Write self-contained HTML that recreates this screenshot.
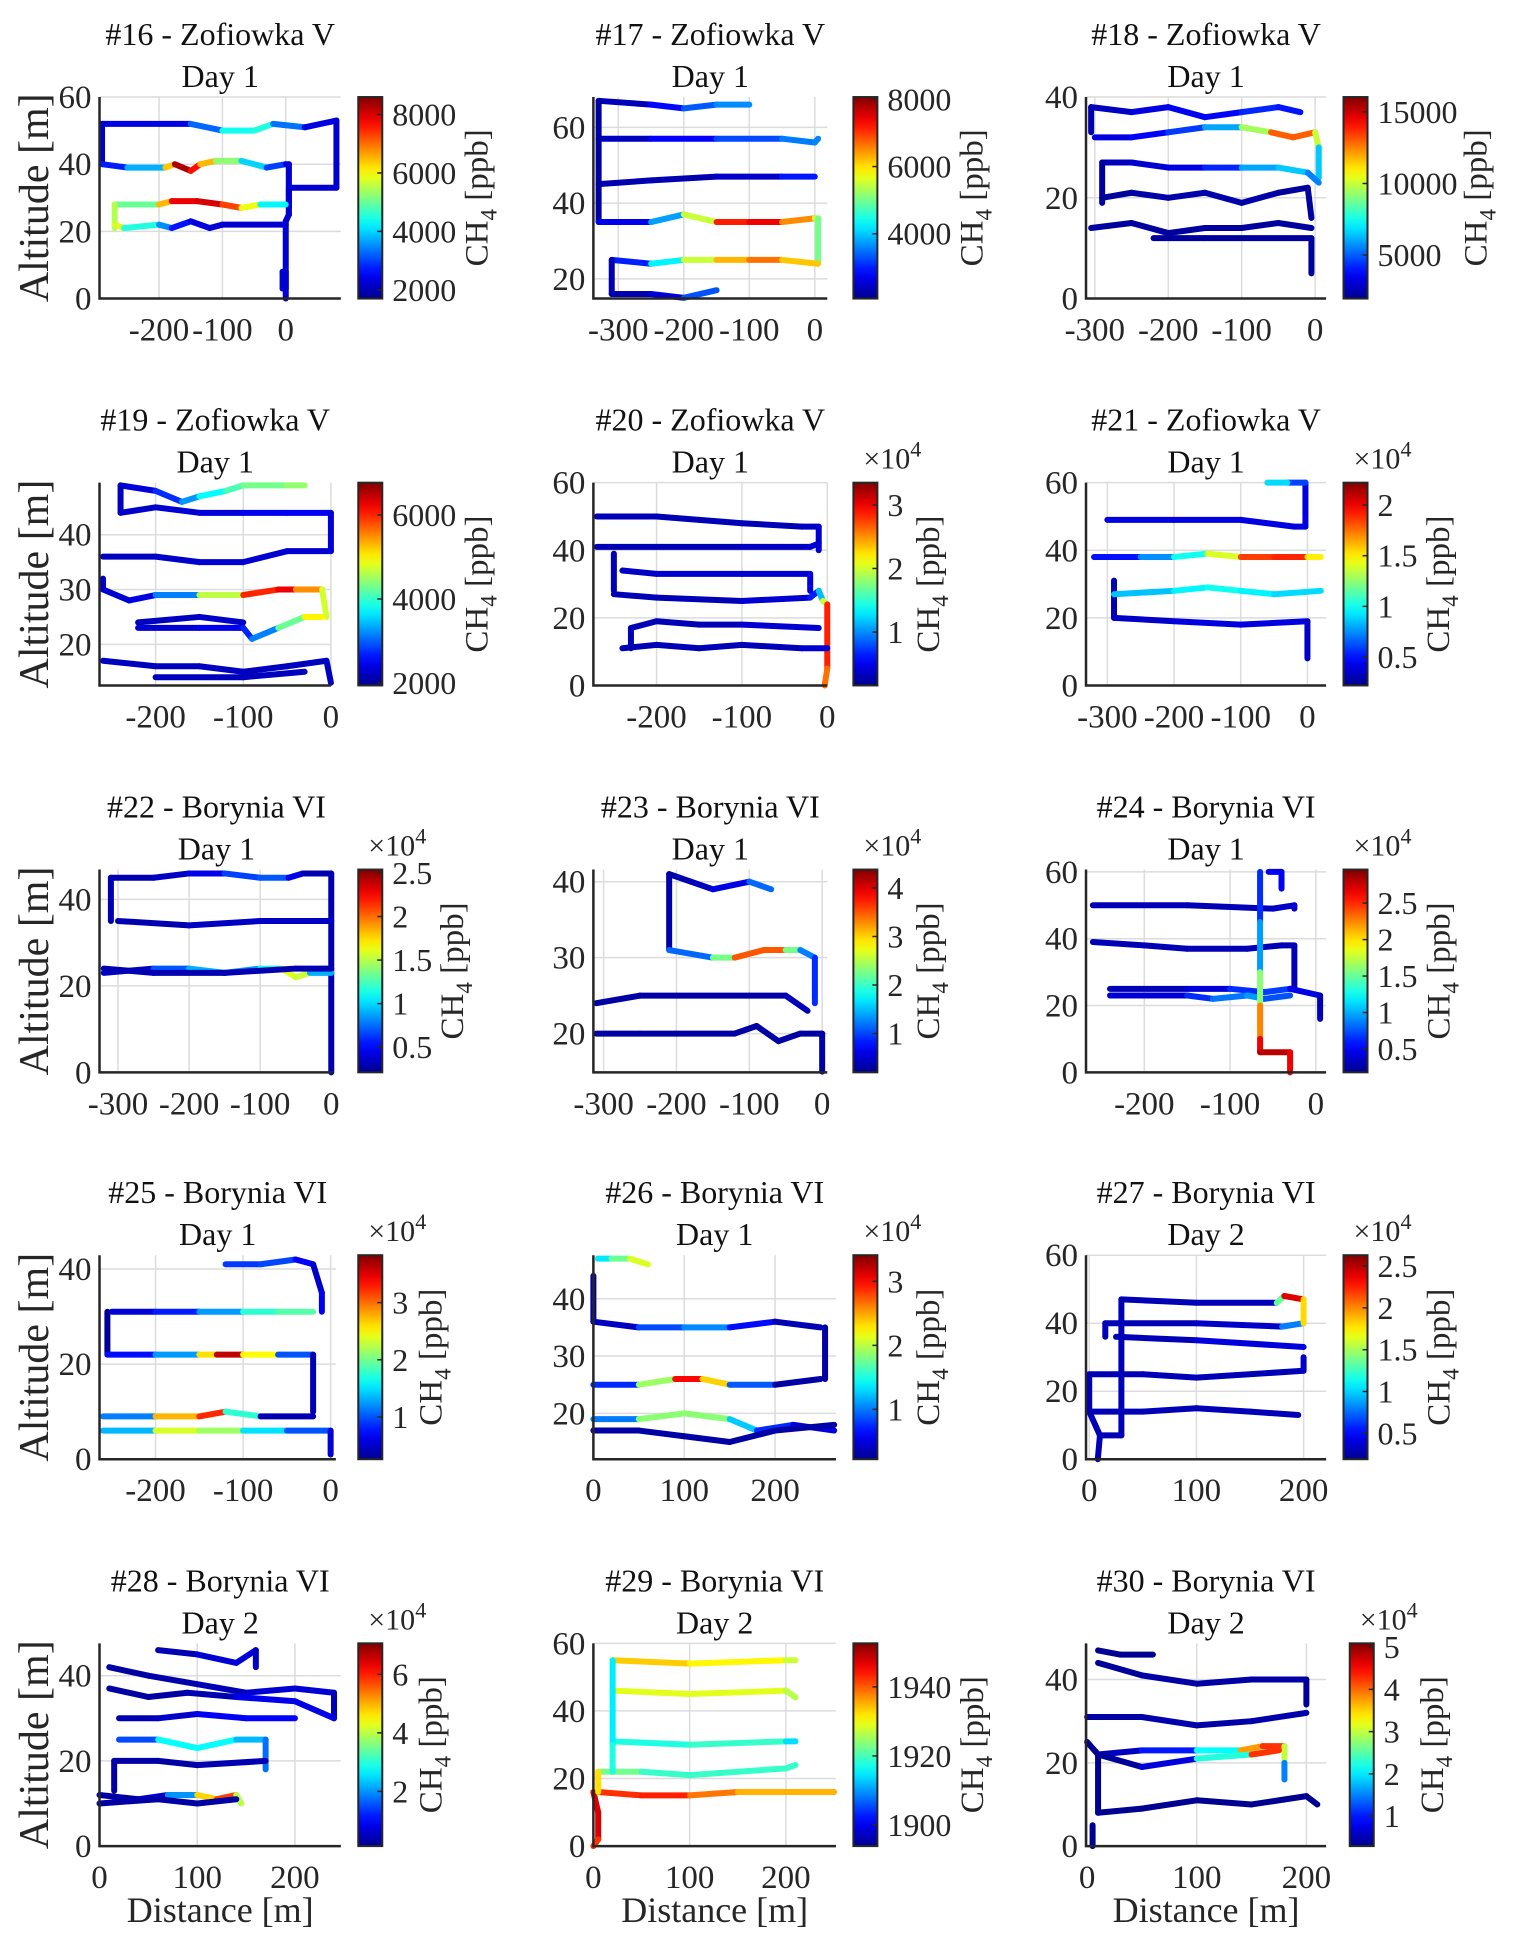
<!DOCTYPE html>
<html><head><meta charset="utf-8"><style>
html,body{margin:0;padding:0;background:#fff;}
svg{display:block;font-family:"Liberation Serif",serif;}
</style></head><body>
<svg id="fig" xmlns="http://www.w3.org/2000/svg" width="1528" height="1948" viewBox="0 0 1528 1948"></svg>
<script>
// ---- data: flight tracks [distance, altitude, CH4] ----
const tracks16=[[[-290,52,2200],[-150,52,2500],[-100,50,4000],[-50,50,4800],[-20,52,4200],[30,51,2500],[80,53,2200]],[[80,53,2200],[80,33,2200],[5,33,2200],[5,25,2200],[0,23,2200],[0,3,2200],[-5,3,2200],[-5,8,2200],[0,8,2200],[0,0,2200]],[[-290,52,2200],[-290,40,2200]],[[-290,40,2500],[-250,39,3000],[-190,39,4500],[-175,40,8300],[-150,38,8300],[-135,40,7000],[-110,41,6000],[-70,41,4500],[-30,39,3500],[0,40,2500],[5,40,2200],[5,27,2200]],[[-270,28,4500],[-200,28,5500],[-180,29,7500],[-140,29,8200],[-100,28,7800],[-70,27,6800],[-40,28,5000],[0,28,3500]],[[-270,28,4500],[-270,21,6500]],[[-270,22,6500],[-255,21,5000],[-200,22,4000],[-180,21,3000],[-150,23,2400],[-120,21,2300],[-100,22,2200],[0,22,2200]]];
const tracks17=[[[-330,67,2200],[-250,66,2500],[-200,65,3200],[-150,66,3500],[-100,66,3800]],[[-330,57,2200],[-250,57,2600],[-150,57,3000],[-50,57,3500],[0,56,3600],[5,57,3600]],[[-330,45,2300],[-250,46,2300],[-150,47,2300],[-50,47,2600],[0,47,3300]],[[-330,67,2200],[-330,35,2200]],[[-330,35,2400],[-250,35,3000],[-200,37,4500],[-150,35,6500],[-100,35,7800],[-50,35,7000],[0,36,6000],[5,36,5000],[5,24,5000]],[[-310,25,2500],[-250,24,3500],[-200,25,5000],[-150,25,6000],[-100,25,6500],[-50,25,6800],[5,24,5500]],[[-310,25,2300],[-310,16,2300],[-250,16,2300],[-200,15,2800],[-150,17,3800]]];
const tracks18=[[[-305,38,2500],[-250,37,3000],[-200,38,3500],[-150,36,3500],[-100,37,4000],[-50,38,4500],[-20,37,3500]],[[-305,38,2500],[-305,33,2500]],[[-300,32,3000],[-250,32,3500],[-200,33,4000],[-150,34,5000],[-100,34,7000],[-60,33,12000],[-30,32,14000],[0,33,12000],[5,30,8000],[5,24,5000]],[[-290,27,2500],[-250,27,2800],[-200,26,3200],[-150,26,3500],[-100,26,5000],[-50,26,7000],[-10,25,6000],[5,23,5000]],[[-290,27,2200],[-290,19,2200]],[[-290,20,2200],[-250,21,2200],[-200,20,2500],[-150,21,2300],[-100,19,2500],[-50,21,2200],[-10,22,2200],[-5,16,2200]],[[-305,14,2200],[-250,15,2200],[-200,13,2200],[-150,14,2200],[-100,14,2200],[-50,15,2200],[-5,14,2200]],[[-220,12,2200],[-150,12,2200],[-5,12,2200],[-5,5,2200]]];
const tracks19=[[[-240,49,2200],[-200,48,2500],[-170,46,3000],[-150,47,3500],[-120,48,4000],[-100,49,4200],[-50,49,4400],[-30,49,4500]],[[-240,49,2200],[-240,44,2200],[-200,45,2300],[-150,44,2300],[-100,44,2400],[-50,44,2500],[0,44,2500],[0,37,2200]],[[-260,36,2200],[-200,36,2200],[-150,35,2300],[-100,35,2300],[-50,37,2300],[0,37,2300]],[[-260,32,2200],[-260,30,2300],[-230,28,2300],[-200,29,2500],[-150,29,3800],[-100,29,5500],[-60,30,6500],[-40,30,6000],[-10,30,5000],[-5,25,4500]],[[-220,23,2300],[-150,23,2300],[-100,23,2600],[-90,21,2800],[-60,23,3500],[-30,25,5000],[-10,25,5000]],[[-220,24,2200],[-150,25,2200],[-100,24,2300]],[[-260,17,2200],[-200,16,2200],[-150,16,2200],[-100,15,2200],[-50,16,2200],[-5,17,2200],[0,13,2200]],[[-200,14,2200],[-100,14,2200],[-30,15,2200]]];
const tracks20=[[[-270,50,0.3],[-200,50,0.3],[-150,49,0.3],[-100,48,0.3],[-30,47,0.3],[-10,47,0.4],[-10,40,0.4]],[[-270,41,0.3],[-200,41,0.3],[-100,41,0.3],[-20,41,0.4],[-10,42,0.4]],[[-250,39,0.3],[-250,28,0.3]],[[-240,34,0.3],[-200,33,0.4],[-100,33,0.4],[-20,33,0.4],[-20,28,0.5]],[[-250,27,0.3],[-200,26,0.3],[-100,25,0.3],[-20,26,0.5],[-10,28,0.8],[-5,25,1.5],[0,24,2.5],[0,5,3.2],[-3,0,2.0]],[[-230,17,0.3],[-200,19,0.3],[-150,18,0.3],[-100,18,0.3],[-10,17,0.5]],[[-240,11,0.3],[-200,12,0.3],[-150,11,0.3],[-100,12,0.3],[-30,11,0.3],[0,11,0.5]],[[-230,17,0.3],[-230,11,0.3]]];
const tracks21=[[[-300,49,0.4],[-200,49,0.4],[-100,49,0.4],[-20,47,0.4],[-3,47,0.4],[-3,60,0.4],[-30,60,0.8],[-60,60,1.0]],[[-320,38,0.4],[-250,38,0.6],[-200,38,0.9],[-150,39,1.1],[-100,38,1.7],[-50,38,2.0],[0,38,1.8],[20,38,1.2]],[[-290,31,0.3],[-290,20,0.3]],[[-290,27,0.8],[-200,28,0.9],[-150,29,1.0],[-100,28,1.0],[-50,27,0.9],[20,28,0.9]],[[-290,20,0.3],[-200,19,0.4],[-100,18,0.4],[0,19,0.4],[0,8,0.3]]];
const tracks22=[[[-310,45,0.3],[-250,45,0.3],[-200,46,0.4],[-150,46,0.5],[-100,45,0.8],[-60,45,0.6],[-40,46,0.3],[0,46,0.3],[0,0,0.3]],[[-310,45,0.3],[-310,35,0.3]],[[-300,35,0.3],[-200,34,0.3],[-100,35,0.4],[0,35,0.3]],[[-320,23,0.3],[-250,24,0.4],[-200,24,1.0],[-150,23,0.8],[-100,24,0.9],[-70,24,1.4],[-50,22,1.8],[-30,23,1.3],[0,23,0.5]],[[-320,24,0.3],[-250,23,0.3],[-150,23,0.3],[-50,24,0.3],[0,24,0.3]]];
const tracks23=[[[-210,41,0.3],[-180,40,0.4],[-150,39,0.4],[-100,40,0.8],[-70,39,1.5]],[[-210,41,0.3],[-210,31,0.3]],[[-210,31,0.8],[-150,30,1.5],[-120,30,3.0],[-80,31,4.0],[-50,31,3.0],[-30,31,1.5],[-10,30,1.0],[-10,24,0.8]],[[-310,24,0.3],[-250,25,0.3],[-200,25,0.3],[-100,25,0.3],[-50,25,0.3],[-20,23,0.5]],[[-310,20,0.3],[-250,20,0.3],[-200,20,0.3],[-120,20,0.3],[-90,21,0.3],[-60,19,0.3],[-30,20,0.3],[0,20,0.3],[0,15,0.3]]];
const tracks24=[[[-260,50,0.3],[-150,50,0.3],[-50,49,0.3],[-25,50,0.4],[-25,49,0.4]],[[-260,39,0.3],[-200,38,0.3],[-150,37,0.3],[-80,37,0.3],[-40,38,0.3],[-25,38,0.3],[-25,25,0.3]],[[-240,25,0.3],[-150,25,0.3],[-100,25,0.5],[-60,24,0.8],[-30,25,0.6],[5,23,0.3],[5,16,0.3]],[[-240,23,0.3],[-150,23,0.5],[-120,22,0.8],[-80,23,0.9],[-60,22,1.0],[-30,23,0.5]],[[-65,60,0.6],[-65,45,0.7],[-65,30,1.2],[-65,20,2.0],[-65,10,2.5],[-65,6,2.8],[-30,6,2.8],[-30,0,2.5]],[[-55,60,0.5],[-40,60,0.5],[-40,55,0.5]]];
const tracks25=[[[-120,41,0.8],[-80,41,1.0],[-40,42,0.9],[-20,41,0.5],[-10,35,0.5],[-10,31,0.8]],[[-250,31,0.5],[-200,31,0.6],[-150,31,1.0],[-100,31,1.5],[-60,31,2.0],[-20,31,1.8]],[[-255,31,0.3],[-255,22,0.3]],[[-255,22,0.5],[-200,22,1.0],[-150,22,1.5],[-130,22,3.7],[-100,22,3.5],[-60,22,1.5],[-20,22,0.5],[-20,10,0.3]],[[-260,9,0.3],[-200,9,2.0],[-150,9,3.5],[-120,10,3.0],[-80,9,0.5],[-20,9,0.3]],[[-260,6,0.5],[-200,6,2.2],[-150,6,2.5],[-100,6,1.8],[-50,6,1.2],[0,6,0.8],[0,1,0.3]]];
const tracks26=[[[5,47,1.2],[20,47,1.5],[40,47,2.0],[60,46,2.2]],[[0,44,0.3],[0,36,0.3]],[[0,36,0.3],[50,35,0.5],[100,35,1.2],[150,35,0.9],[200,36,0.4],[250,35,0.3]],[[0,25,0.5],[50,25,1.0],[90,26,2.8],[120,26,3.2],[150,25,1.5],[200,25,0.3],[250,26,0.3]],[[0,19,0.5],[50,19,1.5],[100,20,2.2],[150,19,1.5],[180,17,1.0],[220,18,0.5],[265,17,0.5]],[[0,17,0.3],[50,17,0.3],[100,16,0.3],[150,15,0.3],[200,17,0.3],[265,18,0.3]],[[255,26,0.3],[255,35,0.3]]];
const tracks27=[[[30,47,0.3],[100,46,0.3],[175,46,0.3],[182,48,2.4],[200,47,2.4]],[[15,40,0.3],[100,40,0.3],[180,39,0.4],[200,40,1.2],[200,47,2.4]],[[15,36,0.3],[15,40,0.3]],[[25,36,0.3],[100,35,0.3],[200,33,0.5]],[[0,25,0.3],[50,25,0.3],[100,24,0.3],[200,26,0.3],[200,30,0.4]],[[0,14,0.3],[50,14,0.3],[100,15,0.3],[150,14,0.3],[195,13,0.3]],[[30,7,0.3],[30,47,0.3]],[[0,25,0.3],[0,14,0.3],[10,7,0.3],[30,7,0.3]],[[10,7,0.3],[8,0,0.3]]];
const tracks28=[[[60,46,0.3],[100,45,0.5],[140,43,0.8],[160,46,0.6],[160,42,0.5]],[[10,42,0.3],[50,40,0.3],[100,38,0.4],[150,36,0.5],[200,37,0.8],[240,36,0.5],[240,30,0.4]],[[10,37,0.3],[50,35,0.3],[90,36,0.3],[140,35,0.5],[200,34,1.2],[240,30,0.4]],[[20,30,0.3],[60,30,0.5],[100,31,0.7],[150,30,1.2],[200,30,0.8]],[[20,25,0.5],[60,25,2.5],[100,23,3.0],[140,25,2.5],[170,25,2.0],[170,18,1.5]],[[15,20,0.3],[15,13,0.3]],[[15,20,0.3],[60,20,0.3],[100,19,0.3],[170,20,0.5]],[[0,12,0.3],[40,11,0.3],[70,12,1.0],[100,12,3.0],[120,11,6.5],[140,12,5.0],[145,10,3.0]],[[0,10,0.3],[60,11,0.3],[100,10,0.3],[140,11,0.3]]];
const tracks29=[[[20,55,1935],[100,54,1932],[200,55,1930],[210,55,1925]],[[20,46,1928],[100,45,1930],[200,46,1928],[210,44,1925]],[[20,31,1915],[100,30,1920],[200,31,1918],[210,31,1910]],[[5,22,1925],[50,22,1920],[100,21,1918],[200,23,1920],[210,24,1918]],[[20,55,1915],[20,30,1915],[20,22,1920]],[[5,16,1940],[50,15,1945],[100,15,1942],[150,16,1935],[250,16,1935]],[[0,16,1945],[5,10,1950],[5,2,1945],[0,0,1940]],[[5,22,1925],[5,16,1940]]];
const tracks30=[[[10,47,0.3],[30,46,0.3],[60,46,0.3]],[[10,44,0.3],[50,41,0.4],[100,39,0.4],[150,40,0.4],[200,40,0.4],[200,34,0.3]],[[0,31,0.3],[50,31,0.5],[100,29,0.4],[150,30,0.4],[200,32,0.5]],[[0,25,0.3],[10,22,0.3],[50,23,0.8],[100,23,1.2],[140,23,3.0],[160,24,4.5],[180,24,4.0],[180,20,2.0],[180,16,1.0]],[[10,22,0.3],[50,19,0.4],[100,21,1.0],[150,22,3.5],[175,23,5.0]],[[10,22,0.3],[10,8,0.3],[50,9,0.3],[100,11,0.3],[150,10,0.3],[200,12,0.3],[210,10,0.3]],[[5,0,0.3],[5,5,0.3]]];

const titles=["#16 - Zofiowka V","#17 - Zofiowka V","#18 - Zofiowka V","#19 - Zofiowka V","#20 - Zofiowka V","#21 - Zofiowka V","#22 - Borynia VI","#23 - Borynia VI","#24 - Borynia VI","#25 - Borynia VI","#26 - Borynia VI","#27 - Borynia VI","#28 - Borynia VI","#29 - Borynia VI","#30 - Borynia VI"];
const days=["Day 1","Day 1","Day 1","Day 1","Day 1","Day 1","Day 1","Day 1","Day 1","Day 1","Day 1","Day 2","Day 2","Day 2","Day 2"];
const xlims=[[-294,87],[-338,19],[-312,15],[-264,0],[-274,0],[-332,28],[-326,3],[-314,7],[-268,12],[-264,6],[0,267],[-3,221],[0,247],[0,252],[-1,218]];
const ylims=[[0,60],[14.8,68],[0,40],[12.5,49.5],[0,60],[0,60],[0,46.9],[14.9,41.6],[0,60.7],[0,42.9],[12,47.6],[0,60],[0,47.6],[0,60],[0,48.7]];
const xticks=[[-200,-100,0],[-300,-200,-100,0],[-300,-200,-100,0],[-200,-100,0],[-200,-100,0],[-300,-200,-100,0],[-300,-200,-100,0],[-300,-200,-100,0],[-200,-100,0],[-200,-100,0],[0,100,200],[0,100,200],[0,100,200],[0,100,200],[0,100,200]];
const yticks=[[0,20,40,60],[20,40,60],[0,20,40],[20,30,40],[0,20,40,60],[0,20,40,60],[0,20,40],[20,30,40],[0,20,40,60],[0,20,40],[20,30,40],[0,20,40,60],[0,20,40],[0,20,40,60],[0,20,40]];
const clims=[[1700,8600],[2070,8070],[1960,16040],[1940,6770],[0.16,3.35],[0.22,2.22],[0.21,2.54],[0.2,4.38],[0.18,2.96],[0.26,3.83],[0.22,3.41],[0.19,2.63],[0.13,7.06],[1893.9,1952.6],[0.29,5.09]];
const cticks=[[2000,4000,6000,8000],[4000,6000,8000],[5000,10000,15000],[2000,4000,6000],[1,2,3],[0.5,1,1.5,2],[0.5,1,1.5,2,2.5],[1,2,3,4],[0.5,1,1.5,2,2.5],[1,2,3],[1,2,3],[0.5,1,1.5,2,2.5],[2,4,6],[1900,1920,1940],[1,2,3,4,5]];
const tracksAll=[tracks16,tracks17,tracks18,tracks19,tracks20,tracks21,tracks22,tracks23,tracks24,tracks25,tracks26,tracks27,tracks28,tracks29,tracks30];

// ---- layout (displayed units, scaled by S) ----
const S=1.244;
const colL=[80,477,873], rowT=[78,388,699,1009,1321], rowB=[240,551,862,1173,1484];
const axR=[274,665,1066,266,665,1066,268,665,1066,270,672,1066,274,672,1066];
const cbL=[288,686,1080,288,686,1080,288,686,1080,288,686,1080,288,686,1085];
const clabX=[392,790,1195,392,755,1165,372,755,1165,355,755,1165,355,790,1160];

const NS="http://www.w3.org/2000/svg";
const svg=document.getElementById('fig');
function mk(tag,attrs,parent){const e=document.createElementNS(NS,tag);for(const k in attrs)e.setAttribute(k,attrs[k]);(parent||svg).appendChild(e);return e;}
function jet(t){t=Math.max(0,Math.min(1,t));
 const st=[[0,0,0,143],[0.125,0,0,255],[0.375,0,255,255],[0.625,255,255,0],[0.875,255,0,0],[1,128,0,0]];
 for(let i=1;i<st.length;i++){if(t<=st[i][0]){const a=st[i-1],b=st[i],f=(t-a[0])/(b[0]-a[0]);
  return `rgb(${Math.round(a[1]+f*(b[1]-a[1]))},${Math.round(a[2]+f*(b[2]-a[2]))},${Math.round(a[3]+f*(b[3]-a[3]))})`;}}
 return 'rgb(128,0,0)';}
const defs=mk('defs',{});
const lg=mk('linearGradient',{id:'jetg',x1:0,y1:1,x2:0,y2:0},defs);
for(let i=0;i<=20;i++){mk('stop',{offset:i/20,'stop-color':jet(i/20)},lg);}
function fmt(v){return String(v);}

for(let p=0;p<15;p++){
 const r=Math.floor(p/3),c=p%3;
 const L=colL[c]*S,R=axR[p]*S,T=rowT[r]*S,B=rowB[r]*S;
 const g=mk('g',{});
 
 
 const [x0,x1]=xlims[p],[y0,y1]=ylims[p];
 const X=v=>L+(v-x0)/(x1-x0)*(R-L), Y=v=>B-(v-y0)/(y1-y0)*(B-T);
 xticks[p].forEach(v=>{const gl=mk('line',{x1:X(v),x2:X(v),y1:T,y2:B,stroke:'#dcdcdc','stroke-width':1.5},g);});
 yticks[p].forEach(v=>{const gl=mk('line',{x1:L,x2:R,y1:Y(v),y2:Y(v),stroke:'#dcdcdc','stroke-width':1.5},g);});
 const tg=mk('g',{'stroke-linecap':'round','stroke-linejoin':'round'},g);
 
 
 const [c0,c1]=clims[p];
 tracksAll[p].forEach(tr=>{for(let i=1;i<tr.length;i++){const a=tr[i-1],b=tr[i];
  const seg=mk('line',{x1:X(a[0]),y1:Y(a[1]),x2:X(b[0]),y2:Y(b[1]),stroke:jet(((a[2]+b[2])/2-c0)/(c1-c0)),'stroke-width':6},tg);
  
  }});
 const ax=mk('path',{d:`M${L},${T}V${B}H${R}`,fill:'none',stroke:'#262626','stroke-width':2.5},g);
 
 
 xticks[p].forEach(v=>{const t=mk('text',{x:X(v),y:B+42,'font-size':33,'text-anchor':'middle',fill:'#262626'},g);t.textContent=fmt(v);
  });
 yticks[p].forEach(v=>{const t=mk('text',{x:L-8,y:Y(v)+11,'font-size':33,'text-anchor':'end',fill:'#262626'},g);t.textContent=fmt(v);
  });
 const cx=(L+R)/2;
 const t1=mk('text',{x:cx,y:T-52,'font-size':32,'text-anchor':'middle',fill:'#111'},g);t1.textContent=titles[p];
 
 const t2=mk('text',{x:cx,y:T-10,'font-size':32,'text-anchor':'middle',fill:'#111'},g);t2.textContent=days[p];
 
 const cl=cbL[p]*S,cw=24;
 const cb=mk('rect',{x:cl,y:T,width:cw,height:B-T,fill:'url(#jetg)',stroke:'#262626','stroke-width':2},g);
 
 const CY=v=>B-(v-c0)/(c1-c0)*(B-T);
 cticks[p].forEach(v=>{mk('line',{x1:cl+cw-5,x2:cl+cw,y1:CY(v),y2:CY(v),stroke:'#262626','stroke-width':1.5},g);
  const t=mk('text',{x:cl+cw+10,y:CY(v)+11,'font-size':32,fill:'#262626'},g);t.textContent=fmt(v);
  });
 if(c1<100){const t=mk('text',{x:cl+10,y:T-14,'font-size':30,fill:'#262626'},g);
  t.innerHTML='×10<tspan dy="-12" font-size="22">4</tspan>';
  }
 const lx=clabX[p]*S, ly=(T+B)/2;
 const cbt=mk('text',{x:lx,y:ly,'font-size':33,'text-anchor':'middle',fill:'#262626',transform:`rotate(-90 ${lx} ${ly})`},g);
 cbt.innerHTML='CH<tspan dy="9" font-size="23">4</tspan><tspan dy="-9"> [ppb]</tspan>';
 
 if(c===0){const yl=mk('text',{x:48,y:ly,'font-size':42,'text-anchor':'middle',fill:'#262626',transform:`rotate(-90 48 ${ly})`},g);
  yl.textContent='Altitude [m]';}
 if(r===4){const xl=mk('text',{x:cx,y:1922,'font-size':36,'text-anchor':'middle',fill:'#262626'},g);
  xl.textContent='Distance [m]';}
}
</script>
</body></html>
